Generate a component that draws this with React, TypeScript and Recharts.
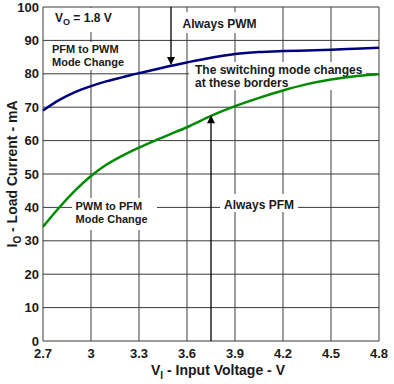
import React from 'react';
import { LineChart, Line, XAxis, YAxis, CartesianGrid, ReferenceLine, ReferenceDot } from 'recharts';

// input voltage (V) sample points
const voltage = [2.7, 2.8, 2.9, 3.0, 3.1, 3.2, 3.3, 3.4, 3.5, 3.6, 3.75, 3.9, 4.05, 4.2, 4.35, 4.5, 4.65, 4.8];
// load current (mA) at the PFM -> PWM border
const pfmToPwm = [69, 72.1, 74.5, 76.3, 77.8, 79, 80.2, 81.3, 82.4, 83.4, 84.8, 85.9, 86.5, 86.8, 87, 87.2, 87.5, 87.8];
// load current (mA) at the PWM -> PFM border
const pwmToPfm = [34.2, 39.9, 45.0, 49.4, 52.9, 55.6, 57.9, 60, 62, 64, 67.4, 70.3, 72.8, 75, 76.9, 78.3, 79.3, 79.9];

const xTicks = [2.7, 3, 3.3, 3.6, 3.9, 4.2, 4.5, 4.8];
const yTicks = [0, 10, 20, 30, 40, 50, 60, 70, 80, 90, 100];

const data = voltage.map((v, i) => ({ v, up: pfmToPwm[i], down: pwmToPfm[i] }));

const FONT = '"Liberation Sans", Arial, Helvetica, sans-serif';
const TXT = '#1a1a1a';

const arrowDown = (props: any) => {
    const { cx, cy } = props;
    return <polygon points={`${cx - 4},${cy - 8} ${cx + 4},${cy - 8} ${cx},${cy}`} fill="#000" />;
};
const arrowUp = (props: any) => {
    const { cx, cy } = props;
    return <polygon points={`${cx - 4},${cy + 8} ${cx + 4},${cy + 8} ${cx},${cy}`} fill="#000" />;
};

const YLabel = (props: any) => {
    const vb = props.viewBox || { x: 0, y: 7, width: 43, height: 334 };
    const x = vb.x + 17;
    const y = vb.y + vb.height / 2;
    return (
        <text x={x} y={y} transform={`rotate(-90, ${x}, ${y})`} textAnchor="middle"
            fontFamily={FONT} fontWeight="bold" fontSize={14} fill={TXT}>
            <tspan>I</tspan><tspan dy={4} fontSize={10}>O</tspan><tspan dy={-4}> - Load Current - mA</tspan>
        </text>
    );
};

const XLabel = (props: any) => {
    const vb = props.viewBox || { x: 43, y: 341, width: 336, height: 43 };
    const x = vb.x + vb.width / 2 + 7;
    const y = vb.y + 34;
    return (
        <text x={x} y={y} textAnchor="middle" fontFamily={FONT} fontWeight="bold" fontSize={14} fill={TXT}>
            <tspan>V</tspan><tspan dy={4} fontSize={10}>I</tspan><tspan dy={-4}> - Input Voltage - V</tspan>
        </text>
    );
};

// white boxed notes sitting on the grid
const Notes = () => (
    <g fontFamily={FONT} fontWeight="bold" fill={TXT}>
        <rect x={50} y={8} width={68} height={24} fill="#fff" />
        <text x={55} y={22} fontSize={12}>
            <tspan>V</tspan><tspan dy={3} fontSize={9}>O</tspan><tspan dy={-3}> = 1.8 V</tspan>
        </text>

        <rect x={48} y={42} width={82} height={28} fill="#fff" />
        <text x={52} y={52.5} fontSize={11}>PFM to PWM</text>
        <text x={52} y={65.5} fontSize={11}>Mode Change</text>

        <rect x={177} y={12} width={86} height={21} fill="#fff" />
        <text x={182.5} y={27.5} fontSize={12}>Always PWM</text>

        <rect x={189} y={62} width={177} height={28} fill="#fff" />
        <text x={195} y={74.3} fontSize={12}>The switching mode changes</text>
        <text x={195} y={87} fontSize={12}>at these borders</text>

        <rect x={72} y={198} width={85} height={32} fill="#fff" />
        <text x={75.5} y={210} fontSize={11}>PWM to PFM</text>
        <text x={75.5} y={223.3} fontSize={11}>Mode Change</text>

        <rect x={220} y={194} width={78} height={18} fill="#fff" />
        <text x={224} y={209} fontSize={12}>Always PFM</text>
    </g>
);

export default function App() {
    return (
        <div style={{ position: 'absolute', left: 0, top: 0, background: '#fff' }}>
            <LineChart width={394} height={384} data={data} margin={{ top: 7, right: 15, left: 0, bottom: 0 }}>
                <CartesianGrid horizontal={false} vertical={true} stroke="#7c7c7c" strokeWidth={1.5} />
                <CartesianGrid horizontal={true} vertical={false} stroke="#3a3a3a" strokeWidth={1} />
                <XAxis dataKey="v" type="number" domain={[2.7, 4.8]} ticks={xTicks} interval={0}
                    axisLine={false} tickLine={false} tickSize={0} tickMargin={8} height={43}
                    tick={{ fill: TXT, fontSize: 13, fontWeight: 'bold', fontFamily: FONT }}
                    label={{ content: XLabel }} />
                <YAxis type="number" domain={[0, 100]} ticks={yTicks} interval={0}
                    axisLine={false} tickLine={false} tickSize={0} tickMargin={4} width={43}
                    tick={{ fill: TXT, fontSize: 13, fontWeight: 'bold', fontFamily: FONT }}
                    label={{ content: YLabel }} />
                <Notes />
                <ReferenceLine segment={[{ x: 3.5, y: 100 }, { x: 3.5, y: 83 }]} stroke="#000" strokeWidth={1.3} />
                <ReferenceDot x={3.5} y={82.6} shape={arrowDown} />
                <ReferenceLine segment={[{ x: 3.75, y: 0 }, { x: 3.75, y: 67 }]} stroke="#000" strokeWidth={1.3} />
                <ReferenceDot x={3.75} y={67.6} shape={arrowUp} />
                <Line dataKey="up" type="monotone" stroke="#00007f" strokeWidth={2.5} dot={false} isAnimationActive={false} />
                <Line dataKey="down" type="monotone" stroke="#008a00" strokeWidth={2.5} dot={false} isAnimationActive={false} />
            </LineChart>
        </div>
    );
}
